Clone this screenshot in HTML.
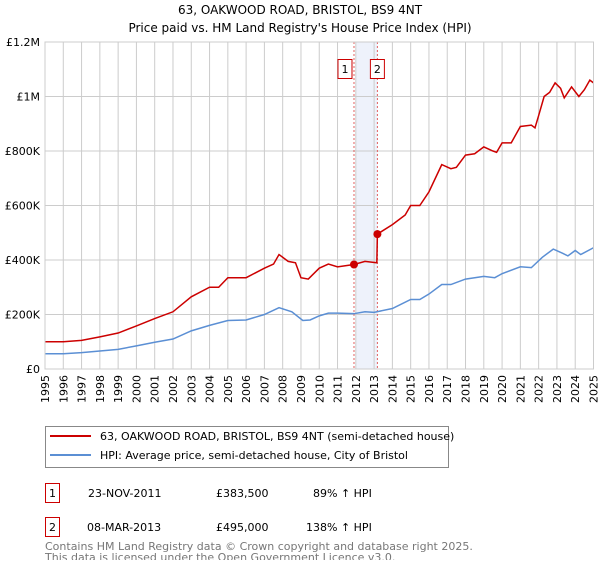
<!DOCTYPE html>
<html><head><meta charset="utf-8"><style>
body{margin:0;background:#fff;font-family:"Liberation Sans","DejaVu Sans",sans-serif}
svg text{font-family:"DejaVu Sans","Liberation Sans",sans-serif}
</style></head><body>
<svg id="chart" width="600" height="560">
<text x="300" y="14" text-anchor="middle" font-size="12">63, OAKWOOD ROAD, BRISTOL, BS9 4NT</text>
<text x="300" y="32" text-anchor="middle" font-size="12">Price paid vs. HM Land Registry's House Price Index (HPI)</text>
<g id="grid"></g><g id="marks"></g><g id="axes"></g>
<g>
<rect x="45.5" y="426.5" width="403" height="41" fill="#fff" stroke="#888"/>
<line x1="50" y1="436" x2="91" y2="436" stroke="#cc0000" stroke-width="2"/>
<text x="100" y="440" font-size="11">63, OAKWOOD ROAD, BRISTOL, BS9 4NT (semi-detached house)</text>
<line x1="50" y1="455" x2="91" y2="455" stroke="#5b8fd4" stroke-width="2"/>
<text x="100" y="459" font-size="11">HPI: Average price, semi-detached house, City of Bristol</text>
</g>
<g>
<rect x="45.5" y="483.5" width="14" height="19" fill="none" stroke="#cc0000"/>
<text x="52.5" y="497" text-anchor="middle" font-size="11">1</text>
<text x="88" y="497" font-size="11">23-NOV-2011</text>
<text x="216" y="497" font-size="11">£383,500</text>
<text x="313" y="497" font-size="11">89% ↑ HPI</text>
<rect x="45.5" y="517.5" width="14" height="19" fill="none" stroke="#cc0000"/>
<text x="52.5" y="531" text-anchor="middle" font-size="11">2</text>
<text x="87" y="531" font-size="11">08-MAR-2013</text>
<text x="216" y="531" font-size="11">£495,000</text>
<text x="306" y="531" font-size="11">138% ↑ HPI</text>
</g>
<text x="45" y="550" font-size="11" fill="#777">Contains HM Land Registry data © Crown copyright and database right 2025.</text>
<text x="45" y="561" font-size="11" fill="#777">This data is licensed under the Open Government Licence v3.0.</text>
</svg>
<script>
const hpiYears=[1995,1996,1997,1998,1999,2000,2001,2002,2003,2004,2005,2006,2007,2007.8,2008.5,2009.1,2009.5,2010,2010.5,2011,2011.9,2012.5,2013,2014,2015,2015.5,2016,2016.7,2017.2,2018,2019,2019.6,2020,2021,2021.6,2022.2,2022.8,2023.3,2023.6,2024,2024.3,2025];
const hpiValues=[56,56,60,66,72,85,98,110,140,160,178,180,200,225,210,178,180,195,205,205,203,210,208,222,255,255,275,310,310,330,340,335,350,375,372,410,440,425,415,435,420,445];
const priceYears=[1995,1996,1997,1998,1999,2000,2001,2002,2003,2004,2004.5,2005,2006,2007,2007.5,2007.8,2008.3,2008.7,2009,2009.4,2010,2010.5,2011,2011.9,2012.5,2013.15,2013.18,2014,2014.7,2015,2015.5,2016,2016.7,2017.2,2017.5,2018,2018.5,2019,2019.5,2019.7,2020,2020.5,2021,2021.6,2021.8,2022,2022.3,2022.6,2022.9,2023.2,2023.4,2023.8,2024.2,2024.5,2024.8,2025];
const priceValues=[100,100,105,118,132,158,185,210,265,300,300,335,335,370,385,420,395,390,335,330,370,385,375,383.5,395,390,495,530,565,600,600,650,750,735,740,785,790,815,800,795,830,830,890,895,885,930,1000,1015,1050,1030,995,1035,1000,1025,1060,1050];
const saleYears=[2011.9,2013.18];
const saleValues=[383.5,495];
const saleLabels=["1","2"];
const yTicks=[0,200,400,600,800,1000,1200];
const yTickLabels=["£0","£200K","£400K","£600K","£800K","£1M","£1.2M"];
const xTicks=[1995,1996,1997,1998,1999,2000,2001,2002,2003,2004,2005,2006,2007,2008,2009,2010,2011,2012,2013,2014,2015,2016,2017,2018,2019,2020,2021,2022,2023,2024,2025];

const NS="http://www.w3.org/2000/svg";
const X0=45,X1=593.5,Y0=369,Y1=42;
const xs=v=>X0+(v-1995)/30*(X1-X0);
const ys=v=>Y0-v/1200*(Y0-Y1);
function mk(tag,attrs,parent){const e=document.createElementNS(NS,tag);for(const k in attrs)e.setAttribute(k,attrs[k]);parent.appendChild(e);return e;}
const grid=document.getElementById('grid'),marks=document.getElementById('marks'),axes=document.getElementById('axes');
// shaded region
const sh=mk('rect',{x:xs(saleYears[0])+2,y:Y1,width:xs(saleYears[1])-xs(saleYears[0])-2,height:Y0-Y1,fill:'#eef2fb'},grid);


yTicks.forEach((t,i)=>{
 const l=mk('line',{x1:X0,x2:X1,y1:ys(t),y2:ys(t),stroke:'#ccc'},grid);
 
 
 const tx=mk('text',{x:X0-5,y:ys(t)+4,'text-anchor':'end','font-size':11},axes);
 tx.textContent=yTickLabels[i];
 
 
});
xTicks.forEach(t=>{
 const l=mk('line',{x1:xs(t),x2:xs(t),y1:Y1,y2:Y0,stroke:'#ccc'},grid);
 
 
 const tx=mk('text',{x:0,y:0,'text-anchor':'end','font-size':11,transform:`translate(${xs(t)+4},${Y0+6}) rotate(-90)`},axes);
 tx.textContent=t;
 
 
});
saleYears.forEach((y,i)=>{
 const l=mk('line',{x1:xs(y),x2:xs(y),y1:Y1,y2:Y0,stroke:'#e06060','stroke-dasharray':'2,2'},grid);
 
 
 const r=mk('rect',{x:xs(y)-15+(i?8:-1),y:59.5,width:14,height:19,fill:'#fff',stroke:'#cc0000'},axes);
 
 
 const tx=mk('text',{x:xs(y)-8+(i?8:-1),y:73,'text-anchor':'middle','font-size':11},axes);
 tx.textContent=saleLabels[i];
 
 
});
const hp=mk('polyline',{points:hpiYears.map((y,i)=>xs(y)+','+ys(hpiValues[i])).join(' '),fill:'none',stroke:'#5b8fd4','stroke-width':1.5},marks);


const pp=mk('polyline',{points:priceYears.map((y,i)=>xs(y)+','+ys(priceValues[i])).join(' '),fill:'none',stroke:'#cc0000','stroke-width':1.5},marks);


saleYears.forEach((y,i)=>{
 const c=mk('circle',{cx:xs(y),cy:ys(saleValues[i]),r:4,fill:'#cc0000'},marks);
 
 
});
mk('rect',{x:X0,y:Y1,width:X1-X0,height:Y0-Y1,fill:'none',stroke:'#ccc'},axes);
</script>
</body></html>
